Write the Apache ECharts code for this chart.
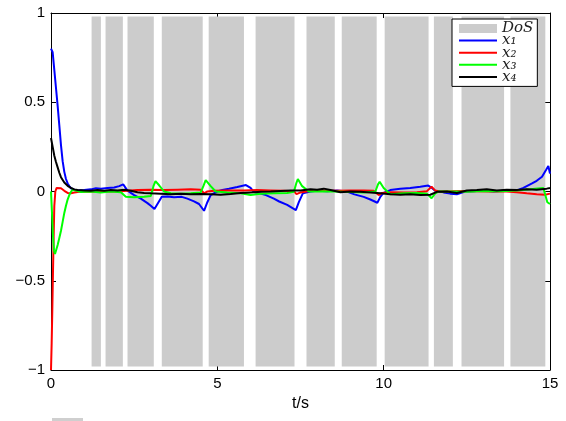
<!DOCTYPE html>
<html>
<head>
<meta charset="utf-8">
<script src="https://cdn.jsdelivr.net/npm/echarts@6/dist/echarts.min.js"></script>
<style>html,body{margin:0;padding:0;background:#fff}#c{width:566px;height:421px}</style>
</head>
<body>
<div id="c"></div>
<script>
// ---- data ----
const seriesNames = ['x\u2081', 'x\u2082', 'x\u2083', 'x\u2084'];
const xTicks = [0, 5, 10, 15];
const yTicks = [-1, -0.5, 0, 0.5, 1];
const dosStart = [1.22, 1.64, 2.30, 3.33, 4.74, 6.15, 7.68, 8.74, 10.03, 11.51, 12.34, 13.81];
const dosEnd   = [1.50, 2.16, 3.09, 4.56, 5.80, 7.32, 8.53, 9.79, 11.35, 12.08, 13.62, 14.86];
const dosTop = 0.98, dosBottom = -0.98;

const tX1 = [0,0.05,0.1,0.15,0.2,0.25,0.3,0.35,0.4,0.45,0.5,0.55,0.6,0.7,0.8,1.0,1.2,1.35,1.5,1.7,1.9,2.05,2.17,2.3,2.5,2.7,2.9,3.0,3.11,3.2,3.33,3.5,3.7,3.93,4.1,4.3,4.45,4.6,4.7,4.8,5.0,5.15,5.35,5.6,5.86,6.0,6.1,6.3,6.46,6.7,6.86,7.1,7.36,7.45,7.57,7.8,8.0,8.3,8.6,8.9,9.12,9.4,9.6,9.81,9.9,9.98,10.2,10.5,10.8,11.1,11.34,11.45,11.54,11.8,12.0,12.2,12.45,12.7,13.0,13.3,13.6,13.9,14.06,14.2,14.46,14.6,14.76,14.88,14.95,15.0];
const vX1 = [0.80,0.78,0.68,0.58,0.48,0.37,0.26,0.17,0.11,0.07,0.045,0.03,0.018,0.01,0.006,0.008,0.012,0.018,0.015,0.02,0.022,0.03,0.04,0.005,-0.02,-0.04,-0.065,-0.08,-0.098,-0.07,-0.03,-0.028,-0.032,-0.03,-0.04,-0.055,-0.07,-0.108,-0.06,-0.02,0.0,0.008,0.015,0.025,0.036,0.02,-0.003,-0.012,-0.02,-0.04,-0.056,-0.075,-0.104,-0.06,-0.01,0.0,0.004,0.002,0.005,0.0,-0.016,-0.03,-0.045,-0.063,-0.03,-0.01,0.008,0.015,0.02,0.027,0.033,0.02,0.005,-0.005,-0.012,-0.015,0.0,0.002,0.005,0.0,0.004,0.003,0.01,0.02,0.045,0.06,0.083,0.12,0.143,0.1];

const tX2 = [0,0.02,0.04,0.06,0.08,0.1,0.13,0.17,0.22,0.3,0.4,0.5,0.6,0.7,0.85,1.0,1.3,1.6,2.0,2.3,2.6,3.0,3.4,3.8,4.2,4.5,4.6,4.7,4.9,5.3,5.8,6.2,6.6,7.0,7.3,7.38,7.5,7.8,8.2,8.6,9.0,9.4,9.7,9.85,9.95,10.2,10.6,11.0,11.3,11.44,11.55,11.7,12.0,12.4,12.8,13.2,13.6,14.0,14.3,14.6,14.85,15.0];
const vX2 = [-1,-0.85,-0.66,-0.45,-0.25,-0.08,0.0,0.02,0.027,0.018,0.004,-0.008,-0.01,-0.006,-0.002,0.0,-0.002,0.001,0.0,0.004,0.008,0.01,0.008,0.01,0.012,0.01,-0.01,0.0,0.004,0.006,0.005,0.008,0.006,0.004,0.002,-0.015,-0.005,0.004,0.006,0.004,0.006,0.005,0.004,-0.02,-0.008,-0.004,-0.006,-0.004,0.002,0.027,0.005,0.0,0.002,0.003,0.002,0.0,0.002,-0.004,-0.01,-0.015,-0.018,-0.012];

const tX3 = [0,0.03,0.06,0.09,0.12,0.15,0.2,0.25,0.3,0.35,0.4,0.45,0.5,0.55,0.6,0.65,0.75,0.9,1.2,1.5,1.8,2.1,2.25,2.5,2.8,3.0,3.08,3.14,3.25,3.4,3.6,3.9,4.2,4.5,4.58,4.65,4.8,4.95,5.3,5.7,6.0,6.3,6.7,7.1,7.3,7.38,7.42,7.55,7.75,8.0,8.5,9.0,9.4,9.75,9.83,9.88,10.0,10.2,10.6,11.0,11.3,11.44,11.55,11.65,12.0,12.5,13.0,13.5,14.0,14.4,14.8,14.86,14.92,15.0];
const vX3 = [0,-0.12,-0.25,-0.33,-0.35,-0.34,-0.3,-0.26,-0.22,-0.17,-0.12,-0.08,-0.045,-0.02,-0.002,0.01,0.005,-0.003,0.0,-0.005,0.0,-0.004,-0.03,-0.032,-0.03,-0.025,0.03,0.058,0.035,0.0,-0.01,-0.012,-0.01,-0.005,0.03,0.064,0.03,0.0,-0.006,-0.01,-0.02,-0.012,-0.01,-0.008,-0.002,0.05,0.07,0.03,0.0,0.002,0.0,-0.003,-0.005,0.0,0.04,0.055,0.02,-0.015,-0.01,-0.008,-0.012,-0.038,-0.01,0.0,0.0,-0.002,0.003,0.002,0.006,0.012,0.02,0.018,-0.06,-0.07];

const tX4 = [0,0.05,0.1,0.15,0.2,0.25,0.3,0.4,0.5,0.6,0.7,0.8,1.0,1.2,1.4,1.6,1.8,2.0,2.2,2.4,2.6,2.8,3.0,3.3,3.6,3.9,4.2,4.5,4.8,5.1,5.4,5.7,6.0,6.3,6.6,6.9,7.2,7.5,7.8,8.0,8.2,8.4,8.7,9.0,9.3,9.6,9.9,10.2,10.5,10.8,11.1,11.4,11.6,11.9,12.2,12.5,12.8,13.1,13.4,13.7,14.0,14.3,14.6,14.9,15.0];
const vX4 = [0.30,0.25,0.2,0.165,0.135,0.105,0.08,0.05,0.032,0.02,0.012,0.008,0.005,0.004,0.008,0.004,0.009,0.006,0.01,0.004,-0.004,-0.008,-0.01,-0.012,-0.015,-0.012,-0.016,-0.014,-0.015,-0.018,-0.014,-0.008,-0.005,-0.002,0.0,0.003,0.005,0.006,0.012,0.01,0.016,0.008,-0.004,0.0,-0.002,-0.006,-0.01,-0.016,-0.018,-0.016,-0.019,-0.018,-0.002,0.0,-0.008,0.006,0.008,0.012,0.006,0.01,0.008,0.012,0.01,0.016,0.02];

// ---- chart ----
const zip = (t, v) => t.map((x, i) => [x, v[i]]);
const chart = echarts.init(document.getElementById('c'), null, {renderer: 'canvas'});
const fontSans = 'Liberation Sans, Arial, sans-serif';
const fontSerif = 'DejaVu Serif, Liberation Serif, serif';
const fmtY = v => (v < 0 ? '\u2212' + Math.abs(v) : String(v));
const lineIcon = 'path://M0,0H38V2H0Z';

const lineSeries = (name, color, t, v) => ({
  name, type: 'line', data: zip(t, v), showSymbol: false, symbol: 'none',
  lineStyle: {color, width: 2}, itemStyle: {color}, z: 3, animation: false, silent: true
});

const axisCommonX = {
  type: 'value', min: xTicks[0], max: xTicks[xTicks.length - 1], interval: 5,
  axisLine: {show: true, onZero: false, lineStyle: {color: '#000', width: 1}},
  axisTick: {show: true, inside: true, length: 5, lineStyle: {color: '#000'}},
  splitLine: {show: false}
};
const axisCommonY = {
  type: 'value', min: yTicks[0], max: yTicks[yTicks.length - 1], interval: 0.5,
  axisLine: {show: true, onZero: false, lineStyle: {color: '#000', width: 1}},
  axisTick: {show: true, inside: true, length: 5, lineStyle: {color: '#000'}},
  splitLine: {show: false}
};

chart.setOption({
  animation: false,
  backgroundColor: '#fff',
  grid: {left: 51, right: 16, top: 13, bottom: 51, containLabel: false},
  xAxis: [
    Object.assign({}, axisCommonX, {
      position: 'bottom',
      axisLabel: {show: true, color: '#000', fontSize: 15, fontFamily: fontSans, margin: 6},
      name: 't/s', nameLocation: 'middle', nameGap: 26,
      nameTextStyle: {color: '#000', fontSize: 16, fontFamily: fontSans}
    }),
    Object.assign({}, axisCommonX, {position: 'top', axisLabel: {show: false}})
  ],
  yAxis: [
    Object.assign({}, axisCommonY, {
      position: 'left',
      axisLabel: {show: true, color: '#000', fontSize: 15, fontFamily: fontSans, margin: 6, formatter: fmtY}
    }),
    Object.assign({}, axisCommonY, {position: 'right', axisLabel: {show: false}})
  ],
  legend: {
    orient: 'vertical', left: 452, top: 19,
    backgroundColor: '#fff', borderColor: '#000', borderWidth: 1, borderRadius: 0,
    padding: [2, 4, 2, 7], itemGap: -2.9, itemWidth: 38, itemHeight: 9,
    selectedMode: false,
    data: [{name: 'DoS', icon: 'rect'}].concat(seriesNames.map(n => ({name: n, icon: lineIcon}))),
    textStyle: {color: '#222', fontFamily: fontSerif, fontStyle: 'italic', fontSize: 15, lineHeight: 12}
  },
  graphic: [
    {type: 'rect', left: 52, top: 418, shape: {width: 31, height: 4}, style: {fill: '#cfcfcf'}, silent: true}
  ],
  series: [
    {
      name: 'DoS', type: 'custom', z: 1, silent: true, animation: false,
      itemStyle: {color: '#cccccc'},
      encode: {x: [0, 1]},
      data: dosStart.map((s, i) => [s, dosEnd[i]]),
      renderItem: (params, api) => {
        const p0 = api.coord([api.value(0), dosTop]);
        const p1 = api.coord([api.value(1), dosBottom]);
        return {type: 'rect', shape: {x: p0[0], y: p0[1], width: p1[0] - p0[0], height: p1[1] - p0[1]}, style: {fill: '#cccccc'}};
      }
    },
    lineSeries(seriesNames[0], '#0000ff', tX1, vX1),
    lineSeries(seriesNames[1], '#ff0000', tX2, vX2),
    lineSeries(seriesNames[2], '#00ff00', tX3, vX3),
    lineSeries(seriesNames[3], '#000000', tX4, vX4)
  ]
});
</script>
</body>
</html>
